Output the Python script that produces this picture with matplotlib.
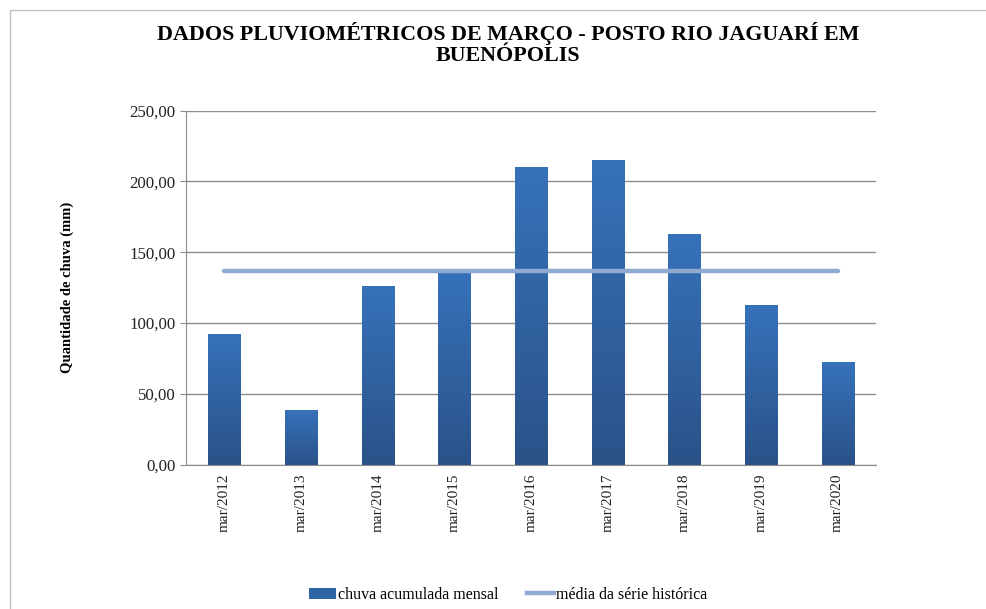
import matplotlib.pyplot as plt
import numpy as np
from matplotlib.patches import Patch, Rectangle
from matplotlib.lines import Line2D
from matplotlib.ticker import FuncFormatter
from matplotlib.colors import LinearSegmentedColormap

# dados
meses = ['mar/2012', 'mar/2013', 'mar/2014', 'mar/2015', 'mar/2016',
         'mar/2017', 'mar/2018', 'mar/2019', 'mar/2020']
chuva = [92.0, 38.4, 125.9, 135.8, 210.2, 215.2, 162.9, 112.8, 72.5]
media_historica = 136.8

plt.rcParams['font.family'] = ['Liberation Serif', 'DejaVu Serif']

fig = plt.figure(figsize=(9.87, 6.09), dpi=100)
ax = fig.add_axes([0.1885, 0.237, 0.699, 0.5813])

x = np.arange(len(meses))
bars = ax.bar(x, chuva, width=0.42, color='#2E63A4', zorder=2)

# degradê nas barras (escuro embaixo, claro em cima)
grad = np.linspace(0, 1, 256).reshape(-1, 1)
cmap = LinearSegmentedColormap.from_list('azul', ['#2A5288', '#3672BA'])
for b in bars:
    bx, by = b.get_x(), b.get_y()
    w, h = b.get_width(), b.get_height()
    im = ax.imshow(grad, cmap=cmap, aspect='auto', origin='lower',
                   extent=[bx, bx + w, by, by + h], zorder=2)
    im.set_clip_path(b)

ax.plot([x[0], x[-1]], [media_historica, media_historica],
        color='#8FA9D1', linewidth=3.2, solid_capstyle='round', zorder=3)

ax.set_xlim(-0.5, len(meses) - 0.5)
ax.set_ylim(0, 250)
ax.set_yticks(np.arange(0, 251, 50))
ax.yaxis.set_major_formatter(FuncFormatter(lambda v, p: f'{v:.2f}'.replace('.', ',')))
ax.set_xticks(x)
ax.set_xticklabels(meses, rotation=90, fontsize=11)
ax.tick_params(axis='y', labelsize=12.2, length=4, color='#8C8C8C')
ax.tick_params(axis='x', length=0, pad=6)
for lab in ax.get_yticklabels() + ax.get_xticklabels():
    lab.set_color('#222222')

ax.grid(axis='y', color='#8C8C8C', linewidth=1, zorder=0)
ax.set_axisbelow(True)
for s in ['top', 'right']:
    ax.spines[s].set_visible(False)
ax.spines['left'].set_color('#8C8C8C')
ax.spines['bottom'].set_color('#8C8C8C')

ax.set_ylabel('Quantidade de chuva (mm)', fontsize=10.5, fontweight='bold', labelpad=40)

fig.text(508 / 987, 1 - 44 / 609,
         'DADOS PLUVIOMÉTRICOS DE MARÇO - POSTO RIO JAGUARÍ EM\nBUENÓPOLIS',
         ha='center', va='center', fontsize=15.8, fontweight='bold', linespacing=1.1)

handles = [Patch(facecolor='#2E63A4', edgecolor='none'),
           Line2D([0], [0], color='#8FA9D1', linewidth=3.2)]
fig.legend(handles, ['chuva acumulada mensal', 'média da série histórica'],
           loc='center', bbox_to_anchor=(508 / 987, 1 - 595 / 609), ncol=2,
           frameon=False, fontsize=11.5, handlelength=1.7, handletextpad=0.1,
           columnspacing=1.8)

# moldura cinza do gráfico
fig.patches.append(Rectangle((10 / 987, -0.1), 1.2, 1 - 10 / 609 + 0.1,
                             transform=fig.transFigure, fill=False,
                             edgecolor='#BFBFBF', linewidth=1))

fig.savefig('out.png', dpi=100)
